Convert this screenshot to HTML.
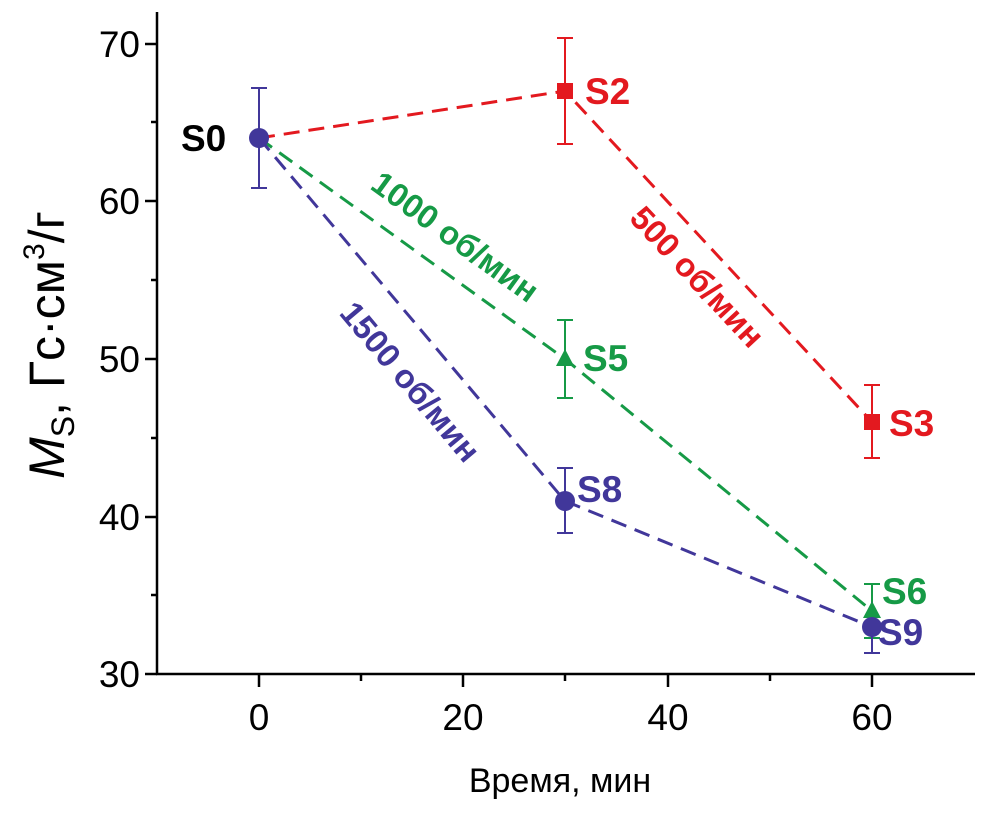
<!DOCTYPE html>
<html><head><meta charset="utf-8"><style>html,body{margin:0;padding:0;background:#fff}</style></head>
<body>
<svg width="1004" height="829" xmlns="http://www.w3.org/2000/svg" font-family="Liberation Sans, sans-serif">
<g stroke="#000" stroke-width="2.5" fill="none">
<line x1="157" y1="12" x2="157" y2="675"/>
<line x1="156" y1="674" x2="975" y2="674"/>
<line x1="145" y1="44" x2="157" y2="44"/><line x1="145" y1="201" x2="157" y2="201"/><line x1="145" y1="359" x2="157" y2="359"/><line x1="145" y1="517" x2="157" y2="517"/><line x1="145" y1="674" x2="157" y2="674"/>
<line x1="151" y1="122" x2="157" y2="122"/><line x1="151" y1="280" x2="157" y2="280"/><line x1="151" y1="438" x2="157" y2="438"/><line x1="151" y1="595" x2="157" y2="595"/>
<line x1="259" y1="674" x2="259" y2="687"/><line x1="463" y1="674" x2="463" y2="687"/><line x1="668" y1="674" x2="668" y2="687"/><line x1="872" y1="674" x2="872" y2="687"/>
<line x1="361" y1="674" x2="361" y2="681"/><line x1="565" y1="674" x2="565" y2="681"/><line x1="770" y1="674" x2="770" y2="681"/>
</g>
<g font-size="37" text-anchor="end" fill="#000">
<text x="140" y="57">70</text><text x="140" y="214">60</text><text x="140" y="372">50</text><text x="140" y="530">40</text><text x="140" y="687">30</text>
</g>
<g font-size="37" text-anchor="middle" fill="#000">
<text x="259" y="730">0</text><text x="463" y="730">20</text><text x="668" y="730">40</text><text x="872" y="730">60</text>
<text x="560" y="792" font-size="34">Время,  мин</text>
</g>
<text transform="translate(64,345) rotate(-90)" text-anchor="middle" font-size="50" fill="#000"><tspan font-style="italic">M</tspan><tspan font-size="32" dy="10">S</tspan><tspan dy="-10">, Гс·см</tspan><tspan font-size="30" dy="-20">3</tspan><tspan dy="20">/г</tspan></text>
<g stroke-width="3" fill="none" stroke-dasharray="16,9">
<polyline points="259,138 565,91 872,422" stroke="#e3191f"/>
<polyline points="259,138 565,359 872,611" stroke="#169a46"/>
<polyline points="259,138 565,501 872,627" stroke="#41379a"/>
</g>
<g stroke-width="2" fill="none">
<g stroke="#41379a"><line x1="259" y1="88" x2="259" y2="188"/><line x1="251" y1="88" x2="267" y2="88"/><line x1="251" y1="188" x2="267" y2="188"/></g>
<g stroke="#e3191f"><line x1="565" y1="38" x2="565" y2="144"/><line x1="557" y1="38" x2="573" y2="38"/><line x1="557" y1="144" x2="573" y2="144"/>
<line x1="872" y1="385" x2="872" y2="458"/><line x1="864" y1="385" x2="880" y2="385"/><line x1="864" y1="458" x2="880" y2="458"/></g>
<g stroke="#169a46"><line x1="565" y1="320" x2="565" y2="398"/><line x1="557" y1="320" x2="573" y2="320"/><line x1="557" y1="398" x2="573" y2="398"/>
<line x1="872" y1="584" x2="872" y2="638"/><line x1="864" y1="584" x2="880" y2="584"/><line x1="864" y1="638" x2="880" y2="638"/></g>
<g stroke="#41379a"><line x1="565" y1="468" x2="565" y2="533"/><line x1="557" y1="468" x2="573" y2="468"/><line x1="557" y1="533" x2="573" y2="533"/>
<line x1="872" y1="602" x2="872" y2="653"/><line x1="864" y1="653" x2="880" y2="653"/></g>
</g>
<rect x="557" y="83" width="16" height="16" fill="#e3191f"/>
<rect x="864" y="414" width="16" height="16" fill="#e3191f"/>
<polygon points="565,349 574,366 556,366" fill="#169a46"/>
<polygon points="872,601 881,618 863,618" fill="#169a46"/>
<circle cx="259" cy="138" r="10" fill="#41379a"/>
<circle cx="565" cy="501" r="10" fill="#41379a"/>
<circle cx="872" cy="627" r="10" fill="#41379a"/>
<g font-size="37" font-weight="bold">
<text x="181" y="151" fill="#000">S0</text>
<text x="585" y="104" fill="#e3191f">S2</text>
<text x="889" y="436" fill="#e3191f">S3</text>
<text x="583" y="371" fill="#169a46">S5</text>
<text x="882" y="604" fill="#169a46">S6</text>
<text x="577" y="502" fill="#41379a">S8</text>
<text x="878" y="645" fill="#41379a">S9</text>
<text transform="translate(697,277) rotate(47)" text-anchor="middle" dy="11" fill="#e3191f" font-size="33">500 об/мин</text>
<text transform="translate(455,237) rotate(36)" text-anchor="middle" dy="11" fill="#169a46" font-size="33">1000 об/мин</text>
<text transform="translate(410,382) rotate(50)" text-anchor="middle" dy="11" fill="#41379a" font-size="33">1500 об/мин</text>
</g>
</svg>
</body></html>
